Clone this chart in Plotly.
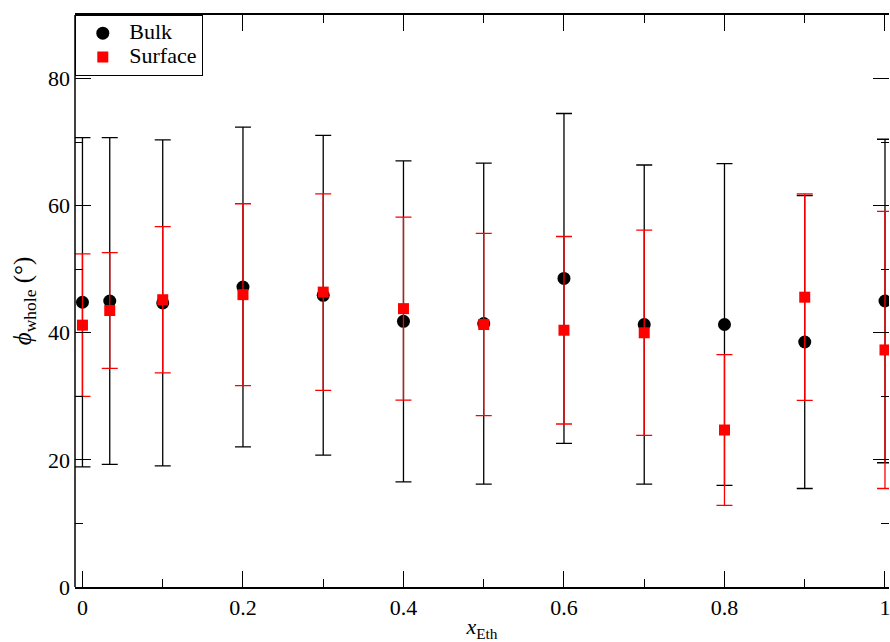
import plotly.graph_objects as go

x_eth = [0.0, 0.034, 0.1, 0.2, 0.3, 0.4, 0.5, 0.6, 0.7, 0.8, 0.9, 1.0]
bulk_mean = [44.8, 45.0, 44.7, 47.2, 45.9, 41.8, 41.45, 48.55, 41.3, 41.3, 38.55, 45.0]
bulk_err = [25.9, 25.7, 25.65, 25.15, 25.15, 25.25, 25.25, 25.95, 25.1, 25.3, 23.05, 25.45]
surf_mean = [41.2, 43.5, 45.2, 46.0, 46.4, 43.8, 41.3, 40.4, 40.0, 24.7, 45.6, 37.3]
surf_err = [11.2, 9.1, 11.5, 14.3, 15.45, 14.4, 14.35, 14.75, 16.15, 11.85, 16.25, 21.8]

x_tickvals = [0, 0.2, 0.4, 0.6, 0.8, 1.0]
x_ticktext = ["0", "0.2", "0.4", "0.6", "0.8", "1"]

FONT = "Liberation Serif, Times New Roman, Times, serif"

fig = go.Figure()
fig.add_trace(go.Scatter(
    x=x_eth, y=bulk_mean, mode="markers",
    name='<span style="font-size:22px">Bulk</span>',
    marker=dict(symbol="circle", size=13, color="black", line=dict(width=0)),
    error_y=dict(type="data", array=bulk_err, color="black", thickness=1.3, width=8),
))
fig.add_trace(go.Scatter(
    x=x_eth, y=surf_mean, mode="markers",
    name='<span style="font-size:22px">Surface</span>',
    marker=dict(symbol="square", size=11, color="#ff0000", line=dict(width=0)),
    error_y=dict(type="data", array=surf_err, color="#ff0000", thickness=1.3, width=8),
))

fig.update_layout(
    width=890, height=642,
    margin=dict(l=75, r=0, t=15, b=53),
    paper_bgcolor="white", plot_bgcolor="white",
    font=dict(family=FONT, size=22, color="black"),
    showlegend=True,
    legend=dict(
        x=0, y=1, xanchor="left", yanchor="top",
        bgcolor="white", bordercolor="black", borderwidth=1.3,
        font=dict(family=FONT, size=16, color="black"),
        itemwidth=43, tracegroupgap=0,
    ),
    xaxis=dict(
        range=[-0.0093, 1.005],
        showgrid=False, zeroline=False,
        showline=True, linecolor="black", linewidth=1.5, mirror="ticks",
        ticks="inside", ticklen=16, tickwidth=1.3, tickcolor="black",
        tickvals=x_tickvals, ticktext=x_ticktext,
        ticklabeloverflow="allow",
        tickfont=dict(family=FONT, size=22),
        minor=dict(dtick=0.1, tick0=0, ticks="inside", ticklen=8, tickwidth=1.3, tickcolor="black"),
        title=dict(text="<i>x</i><sub>Eth</sub>", standoff=6, font=dict(family=FONT, size=22)),
    ),
    yaxis=dict(
        range=[0, 90],
        showgrid=False, zeroline=False,
        showline=False, mirror="ticks",
        ticks="inside", ticklen=16, tickwidth=1.3, tickcolor="black",
        tick0=0, dtick=20,
        tickfont=dict(family=FONT, size=22),
        ticklabeloverflow="allow",
        minor=dict(dtick=10, tick0=0, ticks="inside", ticklen=8, tickwidth=1.3, tickcolor="black"),
        ticklabelstandoff=4,
        title=dict(text="<i>ϕ</i><sub>whole</sub> (°)", standoff=9, font=dict(family=FONT, size=25)),
    ),
    shapes=[dict(type="line", xref="paper", yref="paper", x0=0, x1=0, y0=0, y1=1,
                 line=dict(color="black", width=1.5), layer="above")],
)

fig.write_html("out.html")
